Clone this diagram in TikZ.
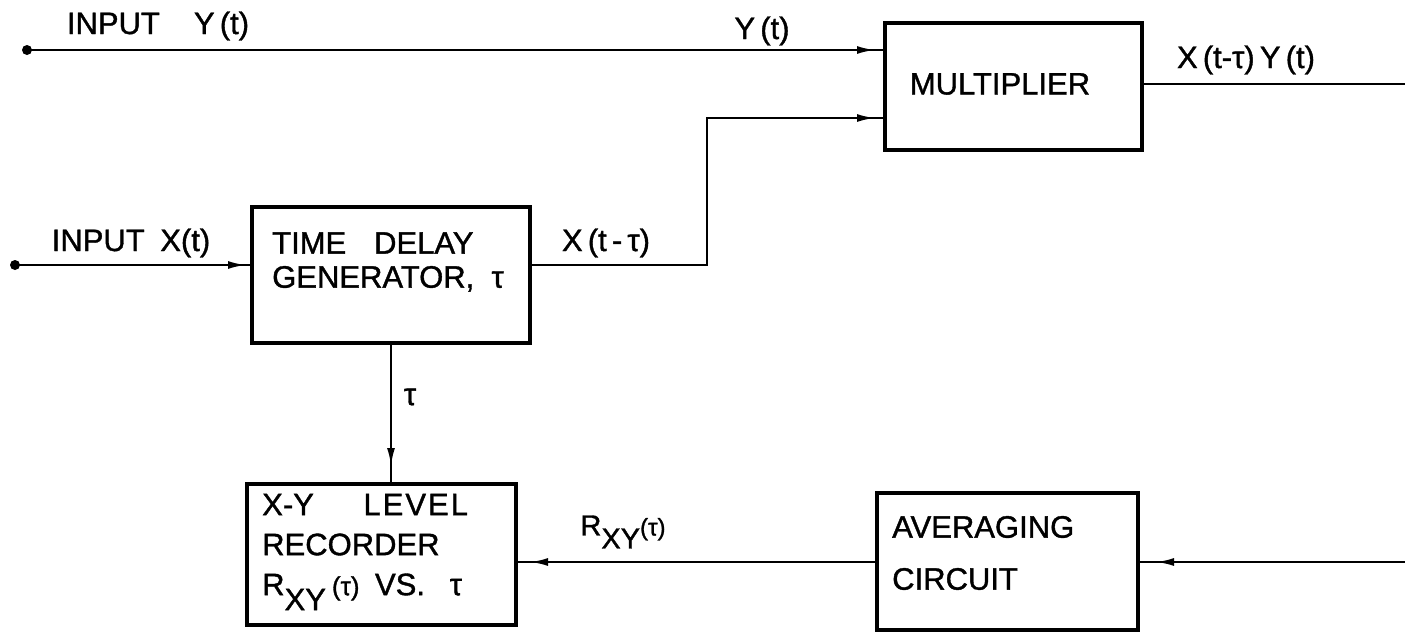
\documentclass[tikz,border=0pt]{standalone}
\usepackage{fontspec}
\setmainfont{Liberation Sans}[FakeBold=1.2]
\usetikzlibrary{arrows.meta,decorations.markings}
\begin{document}
\begin{tikzpicture}[x=1pt,y=-1pt,
  every node/.style={font=\fontsize{31}{34}\selectfont, inner sep=0pt},
  blk/.style={draw, line width=3.2pt, inner sep=0pt, outer sep=0pt},
  wire/.style={line width=2.3pt},
  arr/.style={postaction={decorate}, decoration={markings,
      mark=at position -#1 with {\arrow{Latex[length=18pt,width=8pt]}}}},
  arr/.default=12pt,
  dot/.style={circle, fill, minimum size=10pt, inner sep=0pt}]
\useasboundingbox (0,0) rectangle (1405,632);

% blocks
\node[blk, minimum width=257pt, minimum height=127pt] (mult) at (1013.5,86.5) {};
\node[blk, minimum width=278pt, minimum height=136pt] (tdg) at (391,275) {};
\node[blk, minimum width=269pt, minimum height=141pt] (rec) at (381.5,554.5) {};
\node[blk, minimum width=261pt, minimum height=137pt] (avg) at (1007.5,561.5) {};

% block texts
\node (multT) at (1000,84) {MULTIPLIER};
\node[anchor=west, align=left] (tdgT) at (272,262) {TIME\hspace{0.9em}DELAY\\GENERATOR,\ \ τ};
\node[anchor=west, align=left, font=\fontsize{31}{40}\selectfont] (recT) at (262,552)
  {X-Y\hspace{1.6em}L\kern2pt E\kern2pt V\kern2pt E\kern2pt L\\RECORDER\\R\raisebox{-15pt}{XY}\kern6pt{\fontsize{26}{26}\selectfont(τ)}\hspace{0.5em}VS.\hspace{0.8em}τ};
\node[anchor=west, align=left, font=\fontsize{31}{52}\selectfont] (avgT) at (892,553) {AVERAGING\\CIRCUIT};

% terminals and bends
\node[dot] (inY) at (27,50) {};
\node[dot] (inX) at (15,265) {};
\coordinate (bendA) at (707,265);
\coordinate (bendB) at (707,118);
\coordinate (mIn2) at (mult.west |- bendB);
\coordinate (outR) at (1405,84);
\coordinate (avgR) at (1405,562);

% connectors
\draw[wire, arr=10pt] (inY.center) -- (inY -| mult.west);
\draw[wire, arr=6pt] (inX.center) -- (inX -| tdg.west);
\draw[wire, arr=10pt] (tdg.east |- inX) -- (bendA) -- (bendB) -- (mIn2);
\draw[wire] (mult.east |- outR) -- (outR);
\draw[wire, arr=18pt] (avgR) -- (avgR -| avg.east);
\draw[wire, arr=14pt] (avg.west |- avgR) -- (avgR -| rec.east);
\draw[wire, arr=18pt] (tdg.south) -- (tdg.south |- rec.north);

% connector labels
\node (lInY) at (158,26) {INPUT\hspace{1.1em}Y\,(t)};
\node (lY) at (762,31) {Y\,(t)};
\node (lXY) at (1246,60) {X\,(t-τ)\,Y\,(t)};
\node (lInX) at (131,243) {INPUT\hspace{0.5em}X(t)};
\node (lXd) at (606,243) {X\,(t\,-\,τ)};
\node (lTau) at (410,397) {τ};
\node[font=\fontsize{29}{30}\selectfont] (lR) at (623,532) {R\raisebox{-13pt}{XY}{\fontsize{24}{24}\selectfont(τ)}};
\end{tikzpicture}
\end{document}
